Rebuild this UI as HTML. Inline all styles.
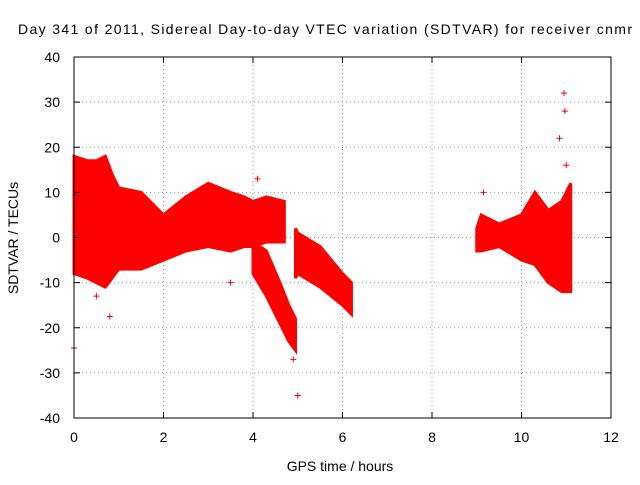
<!DOCTYPE html>
<html><head><meta charset="utf-8"><style>
body{margin:0;background:#fff}
svg text{font-family:"Liberation Sans",sans-serif;font-size:14px;fill:#000}
</style></head><body>
<svg width="640" height="480">
<g id="grid"></g>
<g id="marks"></g>
<rect x="74" y="57" width="537" height="361" fill="none" stroke="#000"/>
<g id="axes"></g>
<text x="18" y="34" textLength="614" lengthAdjust="spacing">Day 341 of 2011, Sidereal Day-to-day VTEC variation (SDTVAR) for receiver cnmr</text>
<text x="340" y="471" text-anchor="middle">GPS time / hours</text>
<text x="18" y="238" text-anchor="middle" transform="rotate(-90 18 238)">SDTVAR / TECUs</text>
</svg>
<script>
const xTicks=[0,2,4,6,8,10,12];
const yTicks=[-40,-30,-20,-10,0,10,20,30,40];
// band segments: time, upper, lower
const seg1T=[0,0.3,0.5,0.7,0.85,1.0,1.5,2.0,2.5,3.0,3.5,3.8,4.0,4.3,4.7];
const seg1U=[18,17,17,18,14,11,10,5,9,12,10,9,8,9,8];
const seg1L=[-8,-9,-10,-11,-9,-7,-7,-5,-3,-2,-3,-2,-2,-1,-1];
const seg2T=[4.0,4.3,4.6,4.8,4.95];
const seg2U=[-1,-3,-10,-15,-18];
const seg2L=[-8,-13,-19,-23,-25];
const seg3T=[4.95,5.0,5.5,6.0,6.2];
const seg3U=[2,1,-2,-8,-10];
const seg3L=[-9,-8,-11,-15,-17];
const seg4T=[9.0,9.1,9.5,10.0,10.3,10.6,10.9,11.1];
const seg4U=[2,5,3,5,10,6,8,12];
const seg4L=[-3,-3,-2,-5,-6,-10,-12,-12];
const outX=[0,0.5,0.8,4.1,4.9,5.0,9.15,10.85,10.95,10.97,11.0,3.5,4.2];
const outY=[-24.5,-13,-17.5,13,-27,-35,10,22,32,28,16,-10,-8];
const X=t=>74+t*537/12, Y=v=>237.5-v*361/80;
const ns="http://www.w3.org/2000/svg";
const grid=document.getElementById('grid'),axes=document.getElementById('axes'),marks=document.getElementById('marks');
function mk(tag,attrs,parent){const e=document.createElementNS(ns,tag);for(const k in attrs)e.setAttribute(k,attrs[k]);parent.appendChild(e);return e;}
xTicks.forEach(t=>{
 if(t>0&&t<12){const l=mk('line',{x1:X(t),x2:X(t),y1:57,y2:418,stroke:'#999','stroke-dasharray':'1,3'},grid);
 
 }
 mk('line',{x1:X(t),x2:X(t),y1:418,y2:412,stroke:'#000'},axes);
 mk('line',{x1:X(t),x2:X(t),y1:57,y2:63,stroke:'#000'},axes);
 const tx=mk('text',{x:X(t),y:442,'text-anchor':'middle'},axes);tx.textContent=t;
 
 
});
yTicks.forEach(v=>{
 if(v>-40&&v<40){const l=mk('line',{x1:74,x2:611,y1:Y(v),y2:Y(v),stroke:'#999','stroke-dasharray':'1,3'},grid);
 
 }
 mk('line',{x1:74,x2:80,y1:Y(v),y2:Y(v),stroke:'#000'},axes);
 mk('line',{x1:611,x2:605,y1:Y(v),y2:Y(v),stroke:'#000'},axes);
 const tx=mk('text',{x:60,y:Y(v)+5,'text-anchor':'end'},axes);tx.textContent=v;
 
 
});
function band(T,U,L,name){
 let pts=T.map((t,i)=>X(t)+','+Y(U[i]));
 for(let i=T.length-1;i>=0;i--)pts.push(X(T[i])+','+Y(L[i]));
 const p=mk('polygon',{points:pts.join(' '),fill:'#f00',stroke:'#f00','stroke-width':3},marks);
 
 
}
band(seg1T,seg1U,seg1L,'band-0-to-4.7h');
band(seg2T,seg2U,seg2L,'band-descending-4-5h');
band(seg3T,seg3U,seg3L,'band-5-to-6.2h');
band(seg4T,seg4U,seg4L,'band-9-to-11h');
outX.forEach((t,i)=>{
 const g=mk('path',{d:`M${X(t)-3},${Y(outY[i])}h6M${X(t)},${Y(outY[i])-3}v6`,stroke:'#f00','stroke-width':1},marks);
 
 
});
</script>
</body></html>
